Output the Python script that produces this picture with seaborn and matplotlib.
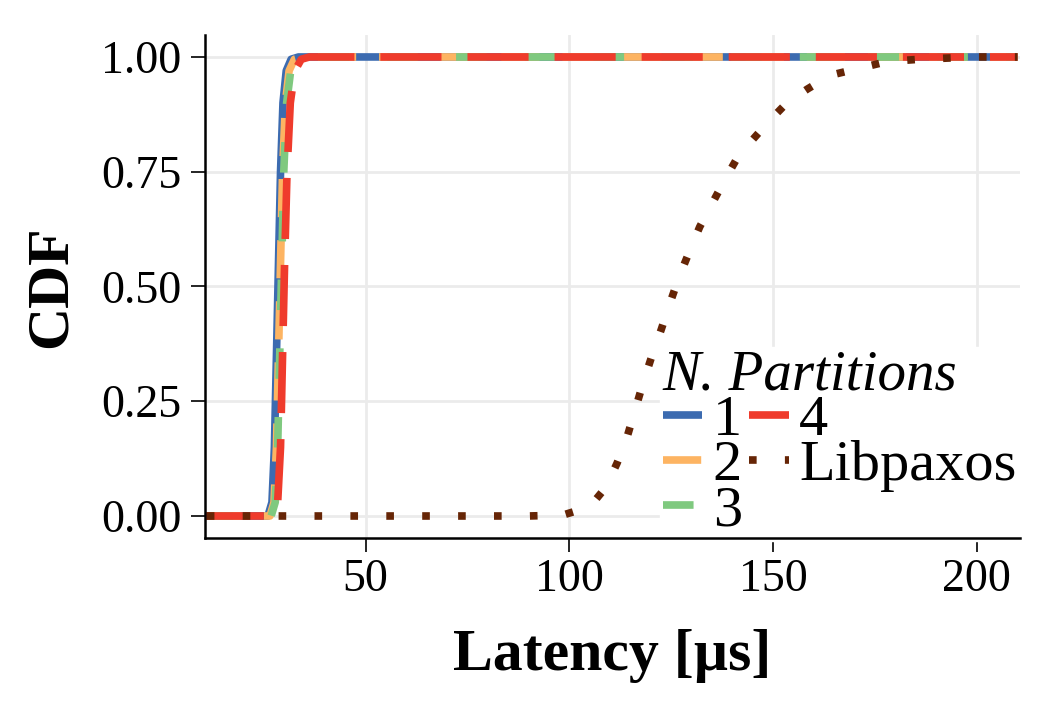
import matplotlib
matplotlib.use("Agg")
import matplotlib.pyplot as plt
import seaborn as sns
import pandas as pd

# ---- data ----
lat_p1 = [10, 26.0, 27.0, 27.6, 28.1, 28.6, 29.1, 29.7, 30.5, 31.7, 33.5, 210]
cdf_p1 = [0, 0, 0.03, 0.15, 0.35, 0.55, 0.75, 0.90, 0.97, 0.995, 1.0, 1.0]

lat_p2 = [10, 26.5, 27.5, 28.1, 28.6, 29.1, 29.6, 30.3, 31.2, 32.5, 34.5, 210]
cdf_p2 = [0, 0, 0.03, 0.15, 0.35, 0.55, 0.75, 0.90, 0.97, 0.995, 1.0, 1.0]

lat_p3 = [10, 26.8, 27.8, 28.4, 28.9, 29.4, 29.9, 30.6, 31.6, 33.0, 35.0, 210]
cdf_p3 = [0, 0, 0.03, 0.15, 0.35, 0.55, 0.75, 0.90, 0.97, 0.995, 1.0, 1.0]

lat_p4 = [10, 27.3, 28.4, 29.1, 29.6, 30.1, 30.7, 31.5, 32.6, 34.2, 36.2, 210]
cdf_p4 = [0, 0, 0.03, 0.15, 0.35, 0.55, 0.75, 0.90, 0.97, 0.995, 1.0, 1.0]

lat_lib = [11, 90, 98.4, 105, 109, 111.7, 114.1, 116.1, 118.1, 120.3, 122.5, 124.7,
           126.9, 129.4, 132, 135, 138, 141.2, 145, 149, 153.4, 158.4, 164, 171,
           178, 186, 194, 200, 210]
cdf_lib = [0, 0, 0.002, 0.02, 0.063, 0.115, 0.17, 0.23, 0.29, 0.35, 0.405, 0.464,
           0.52, 0.575, 0.63, 0.68, 0.73, 0.78, 0.82, 0.86, 0.90, 0.93, 0.96, 0.975,
           0.99, 0.995, 0.998, 1.0, 1.0]

series_names = ["1", "2", "3", "4", "Libpaxos"]
series_lat = [lat_p1, lat_p2, lat_p3, lat_p4, lat_lib]
series_cdf = [cdf_p1, cdf_p2, cdf_p3, cdf_p4, cdf_lib]
colors = ["#3C6BB0", "#FDB462", "#7FC97F", "#EF3B2C", "#662506"]
dash_styles = [None, (5, 3), (4, 5), (8, 3.4), (1, 3.7)]

x_ticks = [50, 100, 150, 200]
y_ticks = [0.00, 0.25, 0.50, 0.75, 1.00]
y_tick_labels = ["0.00", "0.25", "0.50", "0.75", "1.00"]

# ---- styling ----
sns.set_theme(style="white")
plt.rcParams["font.family"] = ["Liberation Serif", "DejaVu Serif"]
plt.rcParams["text.color"] = "black"
plt.rcParams["axes.labelcolor"] = "black"

fig = plt.figure(figsize=(10.5, 7.13), dpi=100)
ax = fig.add_axes([0.195, 0.2454, 0.776, 0.7056])

lw = 5.5
for name, xs, ys, col, ds in zip(series_names, series_lat, series_cdf, colors, dash_styles):
    df = pd.DataFrame({"lat": xs, "cdf": ys})
    sns.lineplot(data=df, x="lat", y="cdf", ax=ax, color=col, lw=lw,
                 sort=False, estimator=None, label=name)
    line = ax.lines[-1]
    if ds is not None:
        line.set_dashes(ds)
    line.set_solid_capstyle("butt")
    line.set_dash_capstyle("butt")

ax.set_xlim(10.5, 210.5)
ax.set_ylim(-0.048, 1.048)
ax.set_xticks(x_ticks)
ax.set_yticks(y_ticks)
ax.set_yticklabels(y_tick_labels)

ax.grid(True, color="#EBEBEB", lw=2)
ax.set_axisbelow(True)
for s in ["top", "right"]:
    ax.spines[s].set_visible(False)
for s in ["left", "bottom"]:
    ax.spines[s].set_color("black")
    ax.spines[s].set_linewidth(1.8)
    ax.spines[s].set_zorder(20)

ax.tick_params(axis="both", which="major", labelsize=33, length=10, width=1.2,
               color="black", labelcolor="black", direction="out",
               bottom=True, left=True)
ax.tick_params(axis="x", pad=5)
ax.tick_params(axis="y", pad=7)

ax.set_xlabel("Latency [µs]", fontsize=43, fontweight="bold", labelpad=20)
ax.set_ylabel("CDF", fontsize=43, fontweight="bold", labelpad=16)

leg = ax.legend(ncol=2, loc="lower right", bbox_to_anchor=(1.0, -0.005),
                title="N. Partitions", fontsize=42,
                title_fontproperties={"style": "italic", "size": 41},
                frameon=True, fancybox=False, borderaxespad=0,
                handlelength=0.68, handletextpad=0.18, columnspacing=0.12,
                labelspacing=-0.13, borderpad=0.05)
leg._legend_box.align = "left"
leg.set_zorder(6)
frame = leg.get_frame()
frame.set_facecolor("white")
frame.set_edgecolor("white")
frame.set_alpha(1)

fig.savefig("out.png", dpi=100)
